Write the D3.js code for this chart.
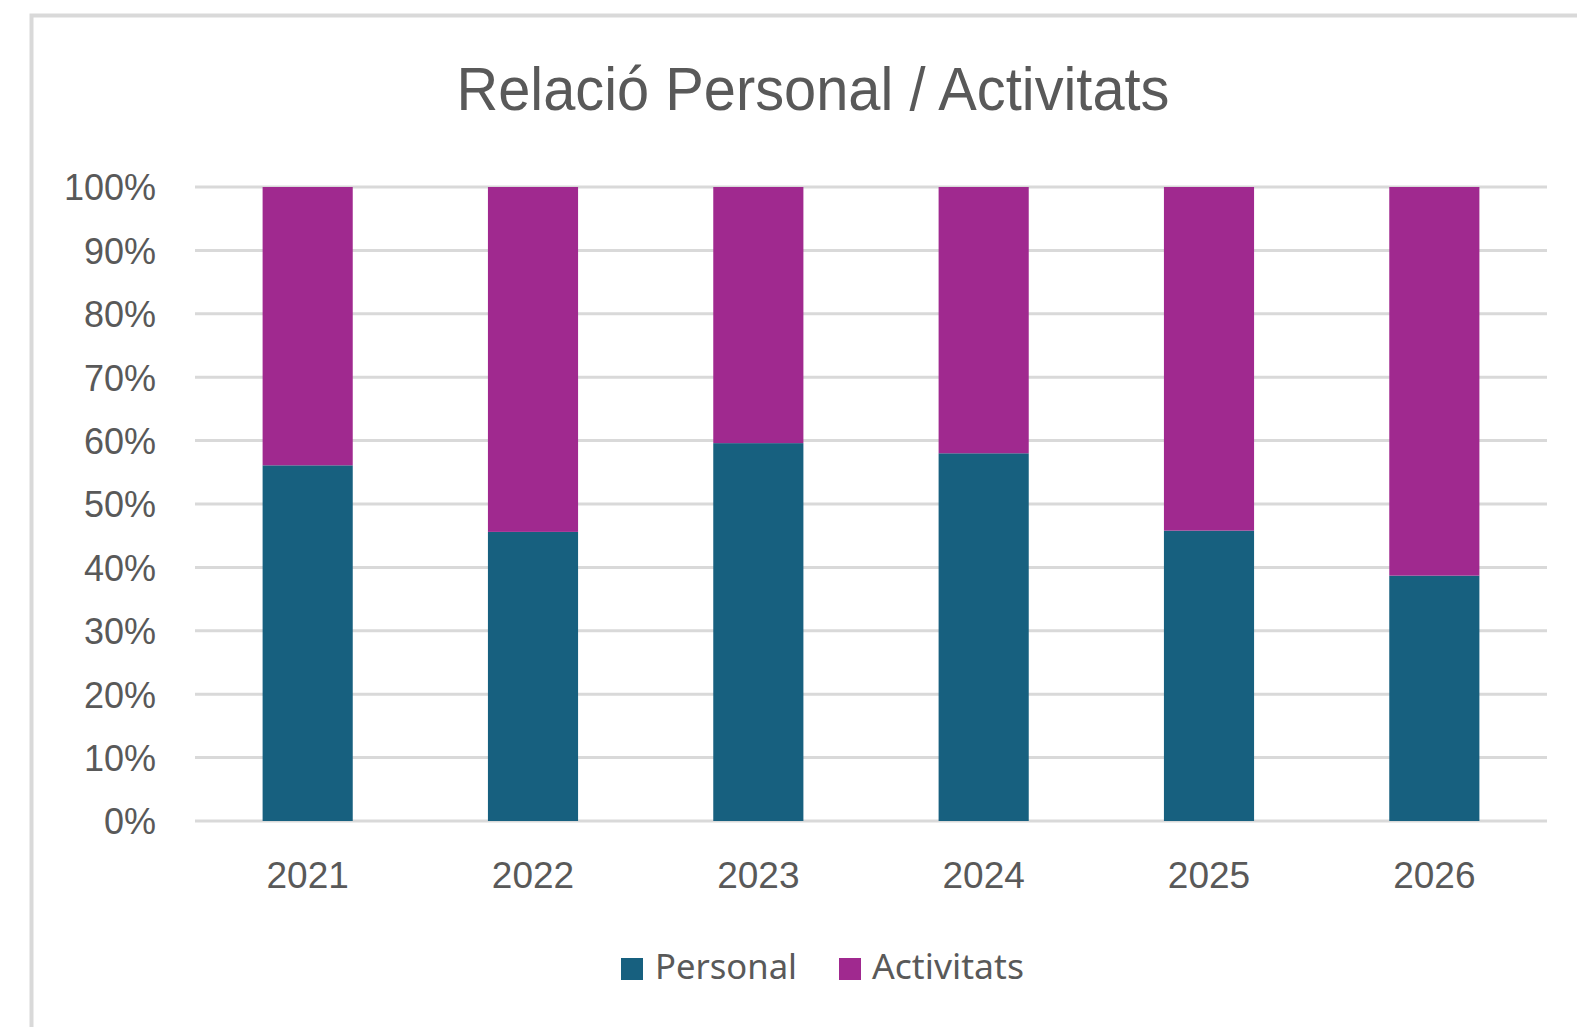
<!DOCTYPE html>
<html>
<head>
<meta charset="utf-8">
<script src="https://cdn.jsdelivr.net/npm/d3@7/dist/d3.min.js"></script>
<style>
  html, body { margin: 0; padding: 0; background: #ffffff; }
  svg { display: block; }
</style>
</head>
<body>
<svg id="chart" width="1577" height="1027"></svg>
<script>
// Share of budget per year (%), stacked to 100%
const years = ["2021", "2022", "2023", "2024", "2025", "2026"];
const personal = [56.1, 45.6, 59.6, 58.0, 45.8, 38.7];
const activitats = [43.9, 54.4, 40.4, 42.0, 54.2, 61.3];
const seriesNames = ["Personal", "Activitats"];
const seriesColors = ["#17607F", "#A0298F"];
const yTicks = [0, 10, 20, 30, 40, 50, 60, 70, 80, 90, 100];
const titleText = "Relació Personal / Activitats";

const W = 1577, H = 1027;
const margin = { left: 195, right: 30, top: 187, bottom: 206 };
const svg = d3.select("#chart");

// Chart-area frame (open to the right and bottom)
svg.append("rect")
  .attr("x", 31.5).attr("y", 15.5)
  .attr("width", W + 20).attr("height", H + 20)
  .attr("fill", "#ffffff")
  .attr("stroke", "#D9D9D9").attr("stroke-width", 4);

const x = d3.scaleBand()
  .domain(years)
  .range([margin.left, W - margin.right])
  .paddingInner(0.6)
  .paddingOuter(0.3);

const y = d3.scaleLinear()
  .domain([0, 100])
  .range([H - margin.bottom, margin.top]);

// Gridlines
svg.append("g")
  .selectAll("line")
  .data(yTicks)
  .join("line")
  .attr("x1", margin.left).attr("x2", W - margin.right)
  .attr("y1", d => y(d)).attr("y2", d => y(d))
  .attr("stroke", "#D9D9D9").attr("stroke-width", 3);

// Y axis labels
const yAxis = d3.axisLeft(y).tickValues(yTicks).tickFormat(d => d + "%").tickSize(0).tickPadding(39);
const gy = svg.append("g").attr("transform", `translate(${margin.left},0)`).call(yAxis);
gy.select(".domain").remove();
gy.selectAll("text")
  .attr("font-family", "'Liberation Sans', Arial, sans-serif")
  .attr("font-size", 36)
  .attr("fill", "#595959")
  .attr("dy", "0.36em");

// Stacked bars
const rows = years.map((yr, i) => ({ year: yr, Personal: personal[i], Activitats: activitats[i] }));
const stack = d3.stack().keys(seriesNames)(rows);
const color = d3.scaleOrdinal().domain(seriesNames).range(seriesColors);

svg.append("g")
  .selectAll("g")
  .data(stack)
  .join("g")
  .attr("fill", d => color(d.key))
  .selectAll("rect")
  .data(d => d)
  .join("rect")
  .attr("x", d => x(d.data.year))
  .attr("width", x.bandwidth())
  .attr("y", d => y(d[1]))
  .attr("height", d => y(d[0]) - y(d[1]));

// X axis labels
const xAxis = d3.axisBottom(x).tickSize(0).tickPadding(0);
const gx = svg.append("g").attr("transform", `translate(0,${H - margin.bottom})`).call(xAxis);
gx.select(".domain").remove();
gx.selectAll("text")
  .attr("font-family", "'Liberation Sans', Arial, sans-serif")
  .attr("font-size", 37)
  .attr("fill", "#595959")
  .attr("y", 67)
  .attr("dy", 0);

// Title: condensed look by compressing a taller setting into the line width
svg.append("text")
  .attr("x", 813).attr("y", 110)
  .attr("text-anchor", "middle")
  .attr("font-family", "'Liberation Sans Narrow', 'Arial Narrow', 'Liberation Sans', sans-serif")
  .attr("font-size", 62)
  .attr("fill", "#595959")
  .attr("textLength", 713)
  .attr("lengthAdjust", "spacingAndGlyphs")
  .text(titleText);

// Legend
const legendItems = [
  { name: "Personal", sx: 621, tx: 655, tw: 142 },
  { name: "Activitats", sx: 839, tx: 872, tw: 152 }
];
const lg = svg.append("g");
legendItems.forEach(it => {
  lg.append("rect")
    .attr("x", it.sx).attr("y", 958)
    .attr("width", 22).attr("height", 22)
    .attr("fill", color(it.name));
  lg.append("text")
    .attr("x", it.tx).attr("y", 979)
    .attr("font-family", "'Noto Sans', 'Open Sans', sans-serif")
    .attr("font-size", 35)
    .attr("fill", "#595959")
    .attr("textLength", it.tw)
    .attr("lengthAdjust", "spacingAndGlyphs")
    .text(it.name);
});
</script>
</body>
</html>
